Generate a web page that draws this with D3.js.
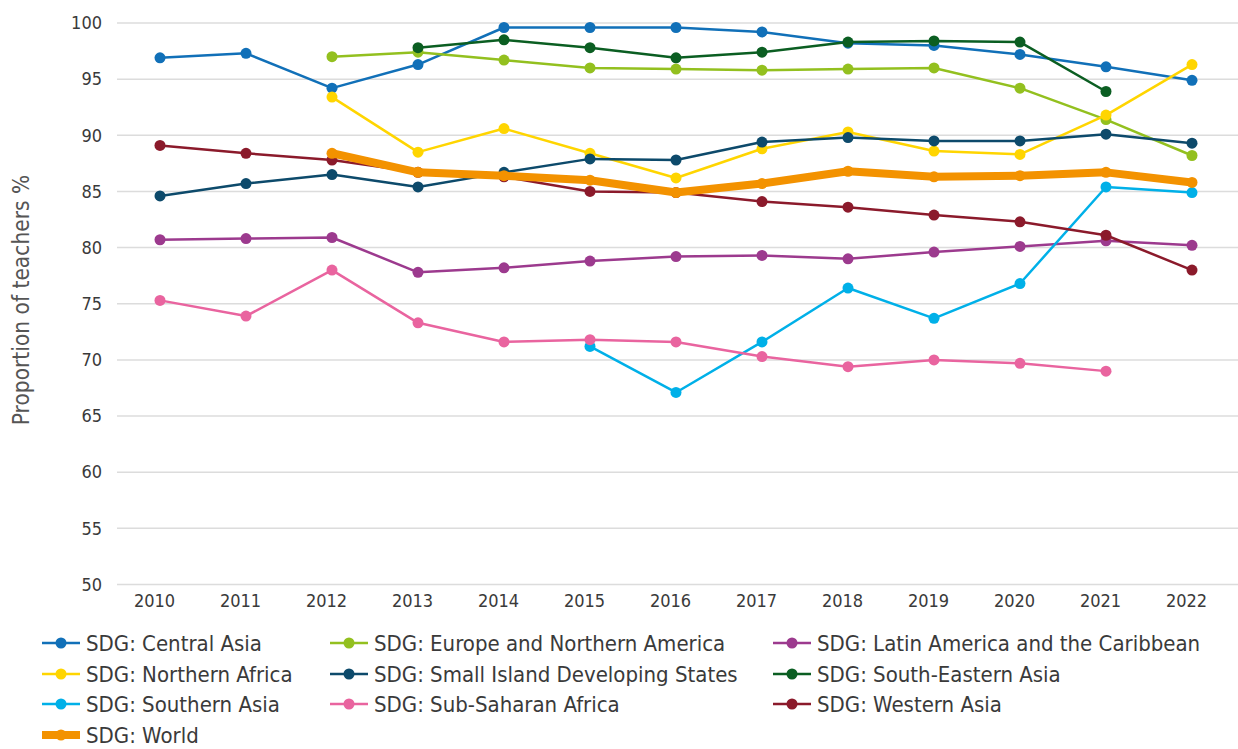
<!DOCTYPE html>
<html>
<head>
<meta charset="utf-8">
<script src="https://cdn.jsdelivr.net/npm/d3@7"></script>
<style>
    body { margin: 0; background: #fff; }
    text { font-family: "DejaVu Sans Condensed", "Liberation Sans Narrow", "Roboto", sans-serif; }
</style>
</head>
<body>
<div id="chart"></div>
<script>
var years = [2010, 2011, 2012, 2013, 2014, 2015, 2016, 2017, 2018, 2019, 2020, 2021, 2022];
var yTicks = [50, 55, 60, 65, 70, 75, 80, 85, 90, 95, 100];

var seriesNames = [
    "SDG: Central Asia",
    "SDG: Europe and Northern America",
    "SDG: Latin America and the Caribbean",
    "SDG: Northern Africa",
    "SDG: Small Island Developing States",
    "SDG: South-Eastern Asia",
    "SDG: Southern Asia",
    "SDG: Sub-Saharan Africa",
    "SDG: Western Asia",
    "SDG: World"
];
var seriesColors = ["#1170b8", "#93c01f", "#9c3a8e", "#ffd500", "#0d4a6b", "#0b5e22", "#00b0e8", "#e9649f", "#8b1a2b", "#f39200"];

// null = no value for that year
var centralAsia = [96.9, 97.3, 94.2, 96.3, 99.6, 99.6, 99.6, 99.2, 98.2, 98.0, 97.2, 96.1, 94.9];
var europeNA = [null, null, 97.0, 97.4, 96.7, 96.0, 95.9, 95.8, 95.9, 96.0, 94.2, 91.4, 88.2];
var latinAmerica = [80.7, 80.8, 80.9, 77.8, 78.2, 78.8, 79.2, 79.3, 79.0, 79.6, 80.1, 80.6, 80.2];
var northernAfrica = [null, null, 93.4, 88.5, 90.6, 88.4, 86.2, 88.8, 90.3, 88.6, 88.3, 91.8, 96.3];
var smallIslands = [84.6, 85.7, 86.5, 85.4, 86.7, 87.9, 87.8, 89.4, 89.8, 89.5, 89.5, 90.1, 89.3];
var southEastAsia = [null, null, null, 97.8, 98.5, 97.8, 96.9, 97.4, 98.3, 98.4, 98.3, 93.9, null];
var southernAsia = [null, null, null, null, null, 71.2, 67.1, 71.6, 76.4, 73.7, 76.8, 85.4, 84.9];
var subSaharan = [75.3, 73.9, 78.0, 73.3, 71.6, 71.8, 71.6, 70.3, 69.4, 70.0, 69.7, 69.0, null];
var westernAsia = [89.1, 88.4, 87.8, 86.7, 86.3, 85.0, 84.9, 84.1, 83.6, 82.9, 82.3, 81.1, 78.0];
var world = [null, null, 88.4, 86.7, 86.4, 86.0, 84.9, 85.7, 86.8, 86.3, 86.4, 86.7, 85.8];

var seriesValues = [centralAsia, europeNA, latinAmerica, northernAfrica, smallIslands, southEastAsia, southernAsia, subSaharan, westernAsia, world];

var width = 1238, height = 749;
var margin = {top: 23, left: 117, right: 0, bottom: 164};
var fontStack = "\"DejaVu Sans Condensed\", \"Liberation Sans Narrow\", sans-serif";

var svg = d3.select("#chart").append("svg")
    .attr("width", width)
    .attr("height", height);

var x = d3.scalePoint()
    .domain(years)
    .range([160, 1192]);

var y = d3.scaleLinear()
    .domain([50, 100])
    .range([height - margin.bottom - 0.5, margin.top]);

//grid lines
svg.append("g")
    .selectAll("line")
    .data(yTicks)
    .enter().append("line")
    .attr("x1", margin.left)
    .attr("x2", width)
    .attr("y1", function (d) { return y(d); })
    .attr("y2", function (d) { return y(d); })
    .attr("stroke", "#dcdcdc")
    .attr("stroke-width", 1.5);

//y axis labels
var yAxis = svg.append("g")
    .attr("transform", "translate(" + (margin.left - 15) + ",0)")
    .call(d3.axisLeft(y).tickValues(yTicks).tickSize(0).tickPadding(0));
yAxis.select(".domain").remove();
yAxis.selectAll("text")
    .attr("font-size", 18)
    .attr("fill", "#3a3a3a")
    .style("font-family", fontStack);

//x axis labels
var xAxis = svg.append("g")
    .attr("transform", "translate(-6," + (y(50) + 10) + ")")
    .call(d3.axisBottom(x).tickSize(0).tickPadding(0));
xAxis.select(".domain").remove();
xAxis.selectAll("text")
    .attr("font-size", 18)
    .attr("fill", "#3a3a3a")
    .style("font-family", fontStack);

//axis title
svg.append("text")
    .text("Proportion of teachers %")
    .attr("transform", "translate(29,300) rotate(-90)")
    .attr("text-anchor", "middle")
    .attr("font-size", 22.5)
    .attr("fill", "#555");

var line = d3.line()
    .defined(function (d) { return d != null; })
    .x(function (d, i) { return x(years[i]); })
    .y(function (d) { return y(d); });

seriesValues.forEach(function (values, s) {
    var isWorld = s === seriesValues.length - 1;
    var g = svg.append("g");
    g.append("path")
        .datum(values)
        .attr("d", line)
        .attr("fill", "none")
        .attr("stroke", seriesColors[s])
        .attr("stroke-width", isWorld ? 8 : 2.5)
        .attr("stroke-linejoin", "round");
    g.selectAll("circle")
        .data(values.map(function (v, i) { return {v: v, year: years[i]}; })
            .filter(function (d) { return d.v != null; }))
        .enter().append("circle")
        .attr("cx", function (d) { return x(d.year); })
        .attr("cy", function (d) { return y(d.v); })
        .attr("r", 5.5)
        .attr("fill", seriesColors[s]);
});

//legend
var legendCols = [42, 330, 773];
var legendRows = [643, 674, 704, 735];
seriesNames.forEach(function (name, s) {
    var isWorld = s === seriesNames.length - 1;
    var lx = legendCols[s % 3];
    var ly = legendRows[Math.floor(s / 3)];
    var item = svg.append("g").attr("transform", "translate(" + lx + "," + ly + ")");
    item.append("line")
        .attr("x1", 0).attr("x2", 38)
        .attr("y1", 0).attr("y2", 0)
        .attr("stroke", seriesColors[s])
        .attr("stroke-width", isWorld ? 8 : 2.5);
    item.append("circle")
        .attr("cx", 19).attr("cy", 0)
        .attr("r", 5.5)
        .attr("fill", seriesColors[s]);
    item.append("text")
        .text(name)
        .attr("x", 44)
        .attr("y", 0)
        .attr("dy", "0.35em")
        .attr("font-size", 22)
        .attr("fill", "#3a3a3a");
});
</script>
</body>
</html>
